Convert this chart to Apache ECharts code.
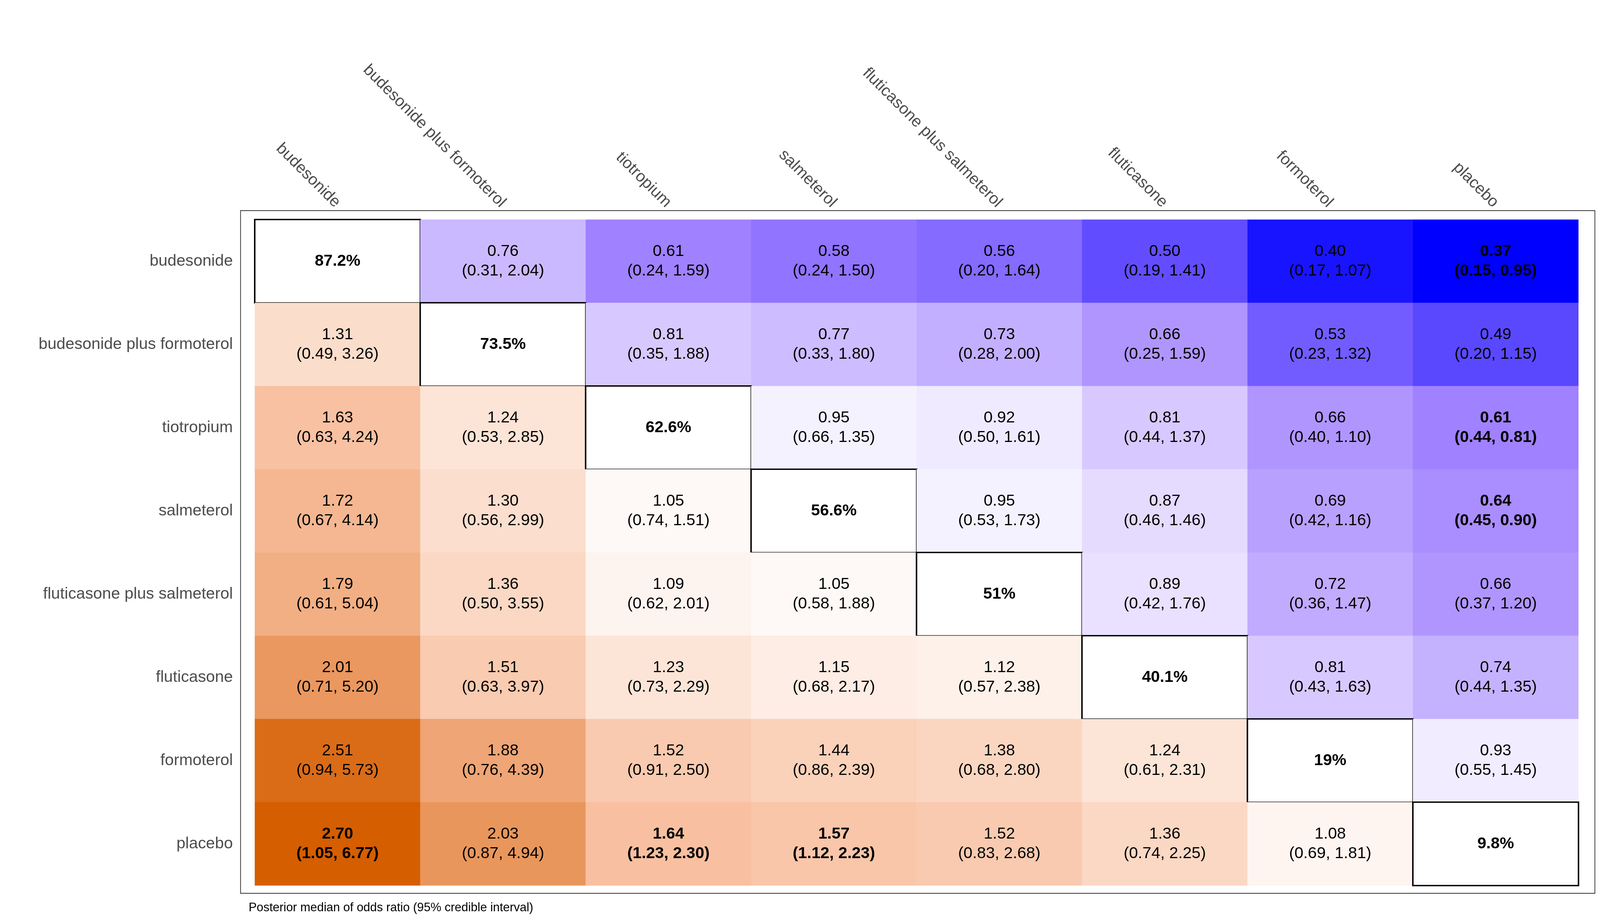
<!DOCTYPE html>
<html><head><meta charset="utf-8">
<script src="https://cdn.jsdelivr.net/npm/echarts@6/dist/echarts.min.js"></script>
<style>html,body{margin:0;padding:0;background:#fff;overflow:hidden}#c{width:100vw;height:100vh}</style>
</head><body><div id="c"></div>
<script>
const treatments = ["budesonide","budesonide plus formoterol","tiotropium","salmeterol","fluticasone plus salmeterol","fluticasone","formoterol","placebo"];
const diagLabels = ["87.2%","73.5%","62.6%","56.6%","51%","40.1%","19%","9.8%"];
const medians = [
 [null,0.76,0.61,0.58,0.56,0.50,0.40,0.37],
 [1.31,null,0.81,0.77,0.73,0.66,0.53,0.49],
 [1.63,1.24,null,0.95,0.92,0.81,0.66,0.61],
 [1.72,1.30,1.05,null,0.95,0.87,0.69,0.64],
 [1.79,1.36,1.09,1.05,null,0.89,0.72,0.66],
 [2.01,1.51,1.23,1.15,1.12,null,0.81,0.74],
 [2.51,1.88,1.52,1.44,1.38,1.24,null,0.93],
 [2.70,2.03,1.64,1.57,1.52,1.36,1.08,null]];
const lower = [
 [null,0.31,0.24,0.24,0.20,0.19,0.17,0.15],
 [0.49,null,0.35,0.33,0.28,0.25,0.23,0.20],
 [0.63,0.53,null,0.66,0.50,0.44,0.40,0.44],
 [0.67,0.56,0.74,null,0.53,0.46,0.42,0.45],
 [0.61,0.50,0.62,0.58,null,0.42,0.36,0.37],
 [0.71,0.63,0.73,0.68,0.57,null,0.43,0.44],
 [0.94,0.76,0.91,0.86,0.68,0.61,null,0.55],
 [1.05,0.87,1.23,1.12,0.83,0.74,0.69,null]];
const upper = [
 [null,2.04,1.59,1.50,1.64,1.41,1.07,0.95],
 [3.26,null,1.88,1.80,2.00,1.59,1.32,1.15],
 [4.24,2.85,null,1.35,1.61,1.37,1.10,0.81],
 [4.14,2.99,1.51,null,1.73,1.46,1.16,0.90],
 [5.04,3.55,2.01,1.88,null,1.76,1.47,1.20],
 [5.20,3.97,2.29,2.17,2.38,null,1.63,1.35],
 [5.73,4.39,2.50,2.39,2.80,2.31,null,1.45],
 [6.77,4.94,2.30,2.23,2.68,2.25,1.81,null]];

function lerp(a,b,t){return a.map((x,i)=>Math.round(x+(b[i]-x)*t));}
function scale(stops,t){t=Math.max(0,Math.min(1,t));
  if(t<0.5) return lerp(stops[0],stops[1],t/0.5); return lerp(stops[1],stops[2],(t-0.5)/0.5);}
const orange=[[255,255,255],[248,192,160],[213,94,0]];
const purple=[[255,255,255],[160,128,255],[0,0,255]];
const lmax=Math.log(2.70);
function colorFor(v){const l=Math.log(v);const t=Math.abs(l)/lmax;
  const c=l>=0?scale(orange,t):scale(purple,t);return 'rgb('+c.join(',')+')';}

const el=document.getElementById('c');
const chart=echarts.init(el);
const W=chart.getWidth(), H=chart.getHeight();
const s=W/4370, sy=H/2362;

const data=[];
for(let i=0;i<8;i++)for(let j=0;j<8;j++){
  if(i===j){data.push({value:[j,i,0],txt:'{b|'+diagLabels[i]+'}',itemStyle:{color:'#fff',borderColor:'#000',borderWidth:4*s}});}
  else{const m=medians[i][j],lo=lower[i][j],hi=upper[i][j];
    const sig=lo>1||hi<1;const k=sig?'b':'n';
    data.push({value:[j,i,m],txt:'{'+k+'|'+m.toFixed(2)+'}\n{'+k+'|('+lo.toFixed(2)+', '+hi.toFixed(2)+')}',itemStyle:{color:colorFor(m)}});}
}
const fs=44*s;
chart.setOption({
  animation:false,
  grid:{left:696*s,top:562*sy,right:59*s,bottom:96*sy},
  xAxis:{type:'category',position:'top',data:treatments,axisLine:{show:false},axisTick:{show:false},
    splitLine:{show:false},axisLabel:{rotate:45,margin:40*s,fontSize:fs,color:'#4D4D4D',fontFamily:'Liberation Sans'}},
  yAxis:{type:'category',inverse:true,data:treatments,axisLine:{show:false},axisTick:{show:false},
    axisLabel:{margin:60*s,fontSize:fs,color:'#4D4D4D',fontFamily:'Liberation Sans'}},
  series:[{type:'heatmap',data:data,
    label:{show:true,formatter:p=>p.data.txt,
      rich:{n:{fontSize:fs,lineHeight:54*s,color:'#000',fontFamily:'Liberation Sans'},
            b:{fontSize:fs,lineHeight:54*s,color:'#000',fontWeight:'bold',fontFamily:'Liberation Sans'}}}}],
  graphic:[
    {type:'rect',shape:{x:657*s,y:539*sy,width:3699*s,height:1747*sy},style:{fill:'none',stroke:'#333',lineWidth:2*s},z:-1},
    {type:'text',left:679*s,top:2308*sy,style:{text:'Posterior median of odds ratio (95% credible interval)',fontSize:33*s,fill:'#000',fontFamily:'Liberation Sans'}}
  ]
});
</script></body></html>
